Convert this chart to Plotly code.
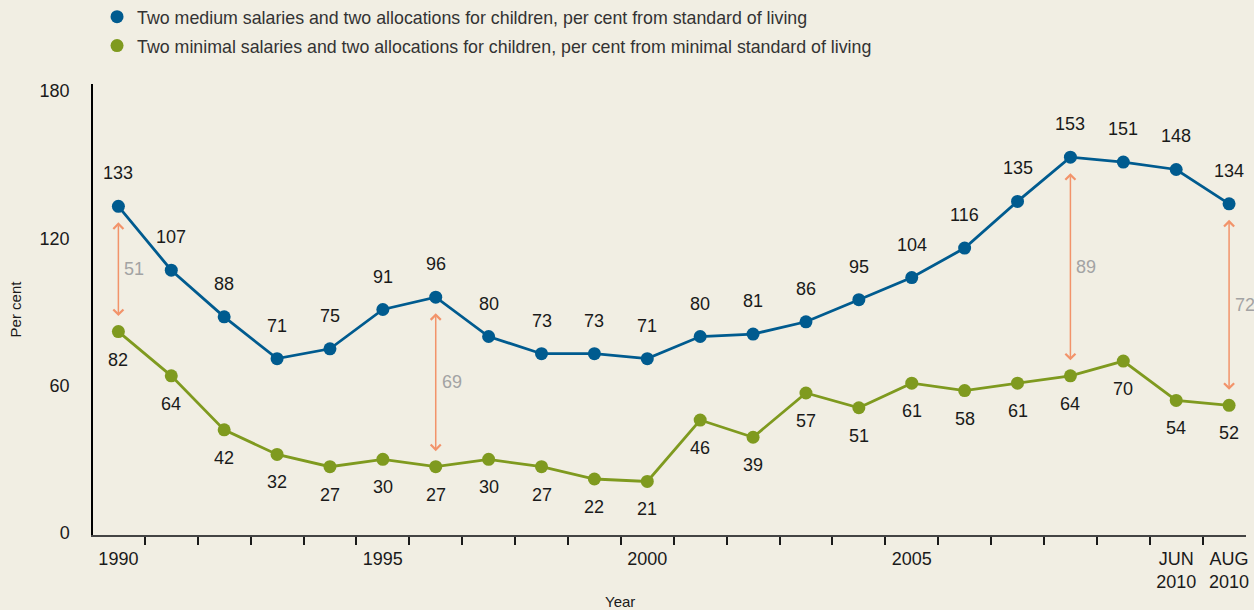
import plotly.graph_objects as go

periods = ["1990", "1991", "1992", "1993", "1994", "1995", "1996", "1997", "1998", "1999",
           "2000", "2001", "2002", "2003", "2004", "2005", "2006", "2007", "2008", "2009",
           "JUN 2010", "AUG 2010"]
medium = [133, 107, 88, 71, 75, 91, 96, 80, 73, 73, 71, 80, 81, 86, 95, 104, 116, 135, 153, 151, 148, 134]
minimal = [82, 64, 42, 32, 27, 30, 27, 30, 27, 22, 21, 46, 39, 57, 51, 61, 58, 61, 64, 70, 54, 52]
gap_periods = ["1990", "1996", "2008", "AUG 2010"]
gap_labels = ["51", "69", "89", "72"]
tick_periods = ["1990", "1995", "2000", "2005", "JUN 2010", "AUG 2010"]
tick_text = ["1990", "1995", "2000", "2005", "JUN<br>2010", "AUG<br>2010"]
y_ticks = [0, 60, 120, 180]

name_medium = "Two medium salaries and two allocations for children, per cent from standard of living"
name_minimal = "Two minimal salaries and two allocations for children, per cent from minimal standard of living"

BLUE = "#005b8f"
GREEN = "#7f9a1f"
ORANGE = "#f2936a"
GREY = "#a3a3a3"
BG = "#f1eee3"
TXT = "#1a1a1a"
FONT = "Liberation Sans"

xs = list(range(len(periods)))

fig = go.Figure()
fig.add_trace(go.Scatter(x=xs, y=medium, mode="lines+markers", showlegend=False,
                         line=dict(color=BLUE, width=2.8), marker=dict(color=BLUE, size=13),
                         cliponaxis=False))
fig.add_trace(go.Scatter(x=xs, y=minimal, mode="lines+markers", showlegend=False,
                         line=dict(color=GREEN, width=2.8), marker=dict(color=GREEN, size=13),
                         cliponaxis=False))
# legend entries
fig.add_trace(go.Scatter(x=[None], y=[None], mode="markers", name=name_medium,
                         marker=dict(color=BLUE, size=13), legend="legend"))
fig.add_trace(go.Scatter(x=[None], y=[None], mode="markers", name=name_minimal,
                         marker=dict(color=GREEN, size=13), legend="legend2"))

annotations = []
for i, v in enumerate(medium):
    annotations.append(dict(x=i, y=v, text=str(v), showarrow=False, yshift=33,
                            font=dict(size=18, color=TXT, family=FONT)))
for i, v in enumerate(minimal):
    annotations.append(dict(x=i, y=v, text=str(v), showarrow=False, yshift=-28,
                            font=dict(size=18, color=TXT, family=FONT)))
for p, lab in zip(gap_periods, gap_labels):
    i = periods.index(p)
    annotations.append(dict(x=i, y=medium[i], ax=i, ay=minimal[i], axref="x", ayref="y",
                            showarrow=True, arrowside="end+start", arrowhead=4, startarrowhead=4,
                            arrowsize=1.3, startarrowsize=1.3, arrowwidth=1.5, arrowcolor=ORANGE,
                            standoff=16, startstandoff=14, text=""))
    annotations.append(dict(x=i, y=(medium[i] + minimal[i]) / 2, text=lab, showarrow=False,
                            xanchor="left", xshift=4,
                            font=dict(size=18, color=GREY, family=FONT)))
annotations.append(dict(x=0.457, y=-0.1465, xref="paper", yref="paper", text="Year",
                        showarrow=False, yanchor="middle",
                        font=dict(size=15, color=TXT, family=FONT)))

fig.update_layout(
    width=1254, height=610,
    margin=dict(l=93, r=8, t=84, b=75, autoexpand=False),
    paper_bgcolor=BG, plot_bgcolor=BG,
    font=dict(family=FONT, color=TXT, size=18),
    annotations=annotations,
    legend=dict(x=0.0035, y=1.1484, xanchor="left", yanchor="middle", bgcolor="rgba(0,0,0,0)",
                font=dict(size=17.8, color="#333333", family=FONT), itemwidth=30),
    legend2=dict(x=0.0035, y=1.0842, xanchor="left", yanchor="middle", bgcolor="rgba(0,0,0,0)",
                 font=dict(size=17.8, color="#333333", family=FONT), itemwidth=30),
)
fig.update_xaxes(
    range=[-0.48, 21.32], showgrid=False, zeroline=False,
    showline=True, linecolor="#444444", linewidth=2,
    tickmode="array", tickvals=[periods.index(p) for p in tick_periods], ticktext=tick_text,
    ticks="", ticklabelstandoff=6, tickfont=dict(size=18, color=TXT),
    minor=dict(tickmode="array", tickvals=[i + 0.5 for i in xs[:-1]], ticks="outside",
               ticklen=8, tickwidth=2, tickcolor=TXT),
)
fig.update_yaxes(
    range=[-0.8, 182.8], showgrid=False, zeroline=False,
    showline=True, linecolor="#000000", linewidth=1.5,
    tickmode="array", tickvals=y_ticks, ticks="", ticklabelstandoff=18,
    tickfont=dict(size=18, color=TXT),
    title=dict(text="Per cent", font=dict(size=15, color=TXT), standoff=14),
)

fig.write_html("out.html")
